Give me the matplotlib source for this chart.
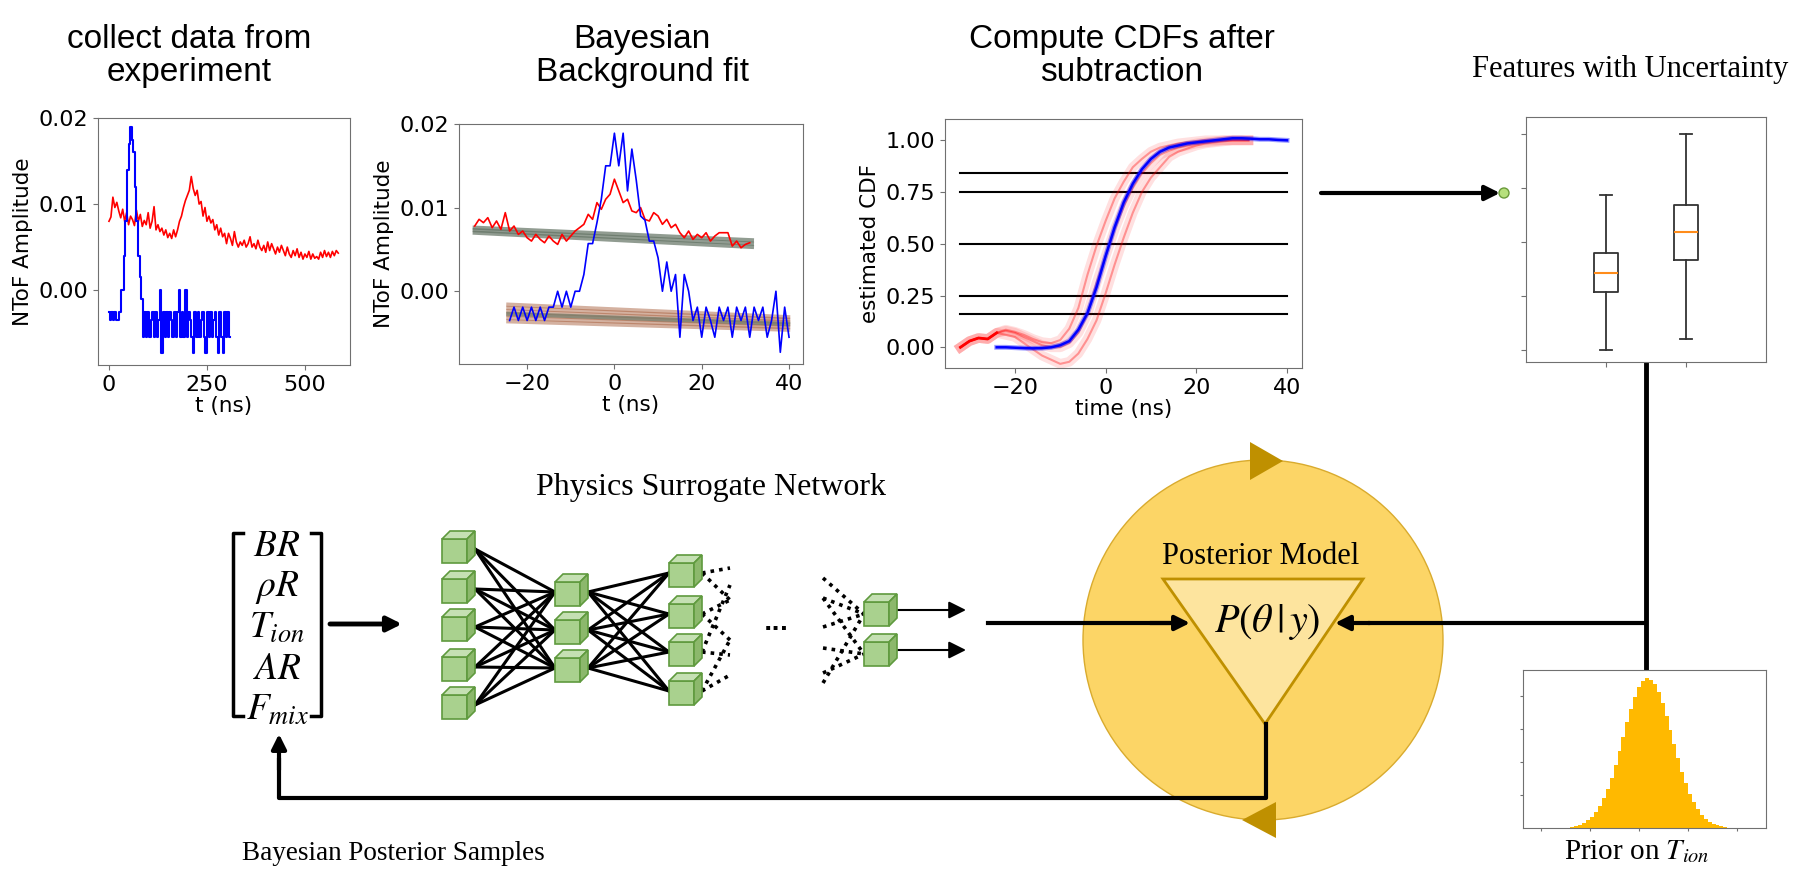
import numpy as np
import matplotlib
matplotlib.use('Agg')
import matplotlib.pyplot as plt
from matplotlib.patches import Circle, Polygon

plt.rcParams['mathtext.fontset'] = 'stix'

W, H = 1798, 877

# --- panel 1: raw NToF signals (x 1e-3)
raw_red = [8.0, 8.5, 10.8, 9.6, 10.2, 9.2, 8.4, 9.4, 8.0, 9.0, 7.6, 8.6, 8.2, 7.5, 9.3, 8.0,
           8.8, 7.4, 8.1, 7.6, 9.0, 7.2, 8.0, 9.7, 7.0, 7.6, 6.8, 7.2, 6.4, 7.0, 6.1, 6.6,
           6.0, 7.0, 6.2, 7.0, 8.0, 8.6, 9.6, 10.4, 11.0, 11.6, 13.2, 11.8, 11.0, 11.6, 10.0,
           10.3, 8.6, 9.6, 8.0, 8.6, 7.8, 8.2, 7.0, 7.6, 6.4, 7.2, 6.2, 6.6, 5.4, 6.6, 6.0,
           5.2, 6.8, 5.6, 5.0, 5.6, 5.2, 5.8, 5.0, 5.4, 6.2, 5.0, 5.4, 4.8, 5.8, 5.0, 4.6,
           5.2, 4.4, 5.6, 4.6, 5.4, 4.8, 4.2, 5.0, 4.4, 5.2, 4.6, 4.0, 5.0, 4.2, 3.8, 4.6,
           4.0, 4.8, 3.8, 4.4, 3.6, 4.2, 3.8, 4.5, 3.6, 4.2, 3.7, 3.9, 3.6, 4.4, 3.8, 4.6,
           3.9, 4.4, 3.8, 4.5, 4.0, 4.6, 4.3]
raw_blue = [-2.5, -3.5, -2.5, -3.5, -2.5, -3.5, -3.5, -2.5, 0.0, 0.0, 4.0, 8.0, 14.0, 17.0,
            18.9, 17.5, 16.0, 12.0, 8.0, 4.0, 1.5, -1.0, -5.5, -2.5, -5.5, -2.5, -5.5, -3.5,
            -2.5, -5.5, -2.5, -5.5, -3.5, 0.0, -7.3, -2.5, -5.5, -2.5, -5.5, -2.5, -3.5, -5.5,
            -2.5, -5.5, -2.5, 0.0, -5.5, -2.5, -5.5, 0.0, -5.5, -2.5, -3.5, -5.5, -7.3, -2.5,
            -5.5, -2.5, -5.5, -3.5, -2.5, -5.5, -7.3, -2.5, -5.5, -2.5, -5.5, -3.5, -2.5, -5.5,
            -7.3, -2.5, -5.5, -7.3, -2.5, -5.5, -2.5, -5.5]
raw_red_dt, raw_blue_dt = 5, 4

# --- panel 2: aligned signals and background fits (x 1e-3)
fit_red = [7.8, 8.6, 8.2, 8.8, 7.6, 8.4, 7.4, 9.4, 7.2, 7.8, 6.8, 7.2, 6.4, 6.0, 6.8, 6.2,
           5.8, 6.6, 6.0, 5.6, 6.8, 6.0, 6.6, 7.2, 7.6, 8.0, 9.2, 8.6, 10.6, 9.8, 11.0, 11.6,
           13.4, 12.0, 10.6, 11.0, 9.6, 9.4, 10.0, 8.6, 8.4, 9.4, 9.0, 8.0, 8.6, 7.6, 8.0,
           7.0, 6.4, 7.2, 6.2, 6.8, 6.4, 7.0, 6.0, 6.6, 7.0, 7.0, 7.0, 5.4, 6.0, 5.2, 5.6, 5.8]
fit_red_t0 = -32
fit_blue = [-3.5, -1.9, -3.5, -1.9, -3.5, -1.9, -3.5, -1.9, -3.5, -1.9, -1.9, 0.0, -1.9, 0.0,
            -1.9, 0.0, 0.0, 2.0, 5.7, 5.7, 8.2, 11.0, 15.0, 15.0, 18.9, 15.0, 18.9, 12.0, 17.0,
            13.3, 9.0, 8.5, 6.0, 6.0, 4.0, 0.0, 3.5, 0.0, 2.0, -5.5, 2.0, 0.0, -3.5, -1.9, -5.5,
            -1.9, -3.5, -5.5, -1.9, -3.5, -1.9, -5.5, -1.9, -3.5, -1.9, -5.5, -1.9, -3.5, -1.9,
            -5.5, -3.5, 0.0, -7.3, -1.9, -5.5]
fit_blue_t0 = -24
bg_red_t = [-32, 31.5]
bg_red_lines = [[7.6, 6.1], [7.3, 5.7], [7.0, 5.3]]
bg_blue_t = [-24.3, 39.8]
bg_blue_lines = [[-1.6, -3.1], [-2.0, -3.4], [-2.4, -3.7], [-2.8, -4.0], [-3.2, -4.3], [-3.6, -4.6]]
bg_blue_mid = [-2.7, -3.9]

# --- panel 3: CDFs
cdf_red_t = [-32, -30, -28, -26, -24, -22, -20, -18, -16, -14, -12, -10, -8, -6, -4, -2, 0, 2,
             4, 6, 8, 10, 12, 14, 16, 18, 20, 22, 24, 26, 28, 30, 31.5]
cdf_red_mid = [0.0, 0.03, 0.045, 0.04, 0.07, 0.08, 0.07, 0.05, 0.03, 0.01, 0.0, 0.0, 0.02, 0.07,
               0.16, 0.31, 0.44, 0.57, 0.68, 0.77, 0.84, 0.89, 0.93, 0.95, 0.965, 0.975, 0.985,
               0.99, 0.995, 1.0, 1.0, 1.0, 1.0]
cdf_red_low = [0.0, 0.03, 0.045, 0.04, 0.07, 0.06, 0.05, 0.02, -0.01, -0.04, -0.06, -0.08, -0.07,
               -0.03, 0.04, 0.13, 0.26, 0.40, 0.53, 0.65, 0.75, 0.82, 0.87, 0.92, 0.945, 0.96,
               0.975, 0.985, 0.99, 0.995, 1.0, 1.0, 1.0]
cdf_red_high = [0.0, 0.03, 0.045, 0.04, 0.07, 0.085, 0.075, 0.06, 0.04, 0.025, 0.02, 0.035, 0.09,
                0.19, 0.35, 0.49, 0.61, 0.72, 0.80, 0.87, 0.91, 0.945, 0.965, 0.975, 0.985,
                0.99, 0.995, 1.0, 1.0, 1.0, 1.0, 1.0, 1.0]
cdf_blue_t = [-24, -22, -20, -18, -16, -14, -12, -10, -8, -6, -4, -2, 0, 2, 4, 6, 8, 10, 12, 14,
              16, 18, 20, 22, 24, 26, 28, 30, 32, 34, 36, 38, 40]
cdf_blue = [0.0, 0.0, -0.002, -0.004, -0.005, -0.004, 0.0, 0.01, 0.03, 0.085, 0.165, 0.29, 0.44,
            0.58, 0.70, 0.79, 0.86, 0.91, 0.945, 0.965, 0.975, 0.985, 0.99, 0.995, 1.0, 1.005,
            1.01, 1.01, 1.008, 1.005, 1.005, 1.002, 1.0]
quantiles = [0.16, 0.25, 0.5, 0.75, 0.84]

# --- panel 4: feature boxes
box_lo = [0.0, 0.2]
box_q1 = [1.07, 1.67]
box_med = [1.43, 2.18]
box_q3 = [1.80, 2.69]
box_hi = [2.87, 4.0]

# --- panel 5: prior histogram
prior_x = [-1.36, -1.28, -1.20, -1.12, -1.04, -0.96, -0.88, -0.80, -0.72, -0.64, -0.56, -0.48,
           -0.40, -0.32, -0.24, -0.16, -0.08, 0.00, 0.08, 0.16, 0.24, 0.32, 0.40, 0.48, 0.56,
           0.64, 0.72, 0.80, 0.88, 0.96, 1.04, 1.12, 1.20, 1.28, 1.36, 1.44, 1.52, 1.60, 1.68, 1.76]
prior_h = [0.04, 0.06, 0.10, 0.16, 0.23, 0.34, 0.48, 0.67, 0.90, 1.19, 1.52, 1.90, 2.33, 2.76,
           3.20, 3.61, 3.98, 4.27, 4.46, 4.55, 4.50, 4.38, 4.13, 3.80, 3.41, 2.98, 2.54, 2.11,
           1.71, 1.35, 1.04, 0.78, 0.57, 0.40, 0.28, 0.19, 0.12, 0.08, 0.05, 0.03]

fig = plt.figure(figsize=(W / 100, H / 100), dpi=100)


def px_axes(l, t, r, b):
    return fig.add_axes([l / W, 1 - b / H, (r - l) / W, (b - t) / H])


def style(ax):
    for s in ax.spines.values():
        s.set_color('#707070')
    ax.tick_params(labelsize=16, color='#707070')


# diagram layer in pixel coordinates
dg = fig.add_axes([0, 0, 1, 1])
dg.set_xlim(0, W)
dg.set_ylim(H, 0)
dg.axis('off')


def arrow(x0, y0, x1, y1, lw=3, ms=22):
    dg.annotate('', xy=(x1, y1), xytext=(x0, y0),
                arrowprops=dict(arrowstyle='-|>', lw=lw, color='black', mutation_scale=ms,
                                shrinkA=0, shrinkB=0))


def cube(x, y, w=25, h=24, d=8):
    kw = dict(closed=True, ec='#5f9a3e', lw=1.2, zorder=4)
    dg.add_patch(Polygon([(x, y), (x + w, y), (x + w, y + h), (x, y + h)], fc='#a9d18e', **kw))
    dg.add_patch(Polygon([(x, y), (x + d, y - d), (x + w + d, y - d), (x + w, y)], fc='#c5e0b3', **kw))
    dg.add_patch(Polygon([(x + w, y), (x + w + d, y - d), (x + w + d, y + h - d), (x + w, y + h)],
                         fc='#8cb86c', **kw))


# titles
tkw = dict(ha='center', va='center', fontsize=24, family='Liberation Sans', linespacing=1.12)
dg.text(189, 56, 'collect data from\nexperiment', **tkw)
dg.text(642, 56, 'Bayesian\nBackground fit', **tkw)
dg.text(1122, 56, 'Compute CDFs after\nsubtraction', **tkw)
skw = dict(ha='center', va='center', family='Liberation Serif')
dg.text(1630, 69, 'Features with Uncertainty', fontsize=22, **skw)
dg.text(711, 487, 'Physics Surrogate Network', fontsize=23, **skw)
dg.text(393, 854, 'Bayesian Posterior Samples', fontsize=19.5, **skw)
dg.text(1637, 852, 'Prior on $T_{ion}$', fontsize=21, **skw)

# parameter vector
for xb, tick in [(233, 10), (321, -10)]:
    dg.plot([xb + tick, xb, xb, xb + tick], [533, 533, 716, 716], color='black', lw=2.5)
params = ['$BR$', r'$\rho R$', '$T_{ion}$', '$AR$', '$F_{mix}$']
for i, p in enumerate(params):
    dg.text(277, 546 + i * 41, p, ha='center', va='center', fontsize=27)
arrow(330, 624, 402, 624, lw=3.5)

# surrogate network
layers = [(442, [539, 579, 617, 657, 695]), (555, [582, 620, 658]),
          (669, [563, 604, 642, 681])]
dots = (0, (1, 1.4))
for (xa, ya), (xb, yb) in zip(layers[:-1], layers[1:]):
    for y0 in ya:
        for y1 in yb:
            dg.plot([xa + 33, xb], [y0 + 10, y1 + 10], color='black', lw=2.2, zorder=2)
for y0, targets in zip(layers[2][1], [[568, 600], [600, 640], [585, 655], [640, 675]]):
    for y1 in targets:
        dg.plot([702, 730], [y0 + 10, y1], color='black', lw=2.6, ls=dots, zorder=2)
out_cubes = [602, 642]
for y0, y1 in [(578, 602), (598, 602), (627, 602), (598, 642), (648, 642), (673, 642), (683, 602)]:
    dg.plot([823, 864], [y0, y1 + 12], color='black', lw=2.6, ls=dots, zorder=2)
for xl, ys in layers:
    for y in ys:
        cube(xl, y)
for y in out_cubes:
    cube(864, y)
    arrow(898, y + 8, 966, y + 8, lw=1.5, ms=26)
dg.text(776, 624, '...', ha='center', va='center', fontsize=16, fontweight='bold')

# posterior model
dg.add_patch(Circle((1263, 640), 180, fc='#fcd566', ec='#d9ab2e', lw=1, zorder=1))
dg.add_patch(Polygon([(1163, 579), (1363, 579), (1265, 724)], fc='#fde49e', ec='#bf9000', lw=2,
                     zorder=2))
dg.add_patch(Polygon([(1250, 442), (1250, 480), (1283, 461)], fc='#bf9000', ec='none', zorder=2))
dg.add_patch(Polygon([(1276, 802), (1276, 838), (1242, 820)], fc='#bf9000', ec='none', zorder=2))
dg.text(1261, 557, 'Posterior Model', ha='center', va='center', family='Liberation Serif',
        fontsize=22, zorder=3)
dg.text(1267, 622, r'$P(\theta\,|\,y)$', ha='center', va='center', fontsize=29, zorder=3)
dg.plot([988, 1180], [623, 623], color='black', lw=3, zorder=3)
arrow(1150, 623, 1190, 623, lw=3, ms=22)
dg.plot([1646, 1646], [362, 670], color='black', lw=3.5)
dg.plot([1646, 1370], [623, 623], color='black', lw=3, zorder=3)
arrow(1370, 623, 1335, 623, lw=3, ms=22)
dg.plot([1266, 1266, 279, 279], [724, 798, 798, 760], color='black', lw=3, zorder=3)
arrow(279, 770, 279, 734, lw=3, ms=22)
arrow(1321, 193, 1500, 193, lw=3, ms=22)
dg.add_patch(Circle((1504, 193), 5, fc='#b6e07c', ec='#6a9a3a', lw=1, zorder=5))

# panel 1
ax1 = px_axes(98, 118, 350, 365)
ax1.plot(np.arange(len(raw_red)) * raw_red_dt, np.array(raw_red) * 1e-3, color='red', lw=1.2)
ax1.plot(np.arange(len(raw_blue)) * raw_blue_dt, np.array(raw_blue) * 1e-3, color='blue', lw=1.5,
         drawstyle='steps-mid')
ax1.set_xlim(-28, 615)
ax1.set_ylim(-0.0087, 0.02)
ax1.set_xticks([0, 250, 500])
ax1.set_yticks([0.0, 0.01, 0.02])
ax1.set_yticklabels(['0.00', '0.01', '0.02'])
ax1.set_xlabel('t (ns)', fontsize=15.5, labelpad=1)
ax1.set_ylabel('NToF Amplitude', fontsize=15.5)
style(ax1)

# panel 2
ax2 = px_axes(459, 124, 803, 364)
for ys in bg_red_lines:
    ax2.plot(bg_red_t, np.array(ys) * 1e-3, color='#627263', lw=3, alpha=0.7)
for ys in bg_blue_lines:
    ax2.plot(bg_blue_t, np.array(ys) * 1e-3, color='#a0522d', lw=3, alpha=0.45)
ax2.plot(bg_blue_t, np.array(bg_blue_mid) * 1e-3, color='#6f7a68', lw=3, alpha=0.7)
ax2.plot(fit_red_t0 + np.arange(len(fit_red)), np.array(fit_red) * 1e-3, color='red', lw=1.2)
ax2.plot(fit_blue_t0 + np.arange(len(fit_blue)), np.array(fit_blue) * 1e-3, color='blue', lw=1.2)
ax2.set_xlim(-35.6, 43.2)
ax2.set_ylim(-0.0087, 0.02)
ax2.set_xticks([-20, 0, 20, 40])
ax2.set_yticks([0.0, 0.01, 0.02])
ax2.set_yticklabels(['0.00', '0.01', '0.02'])
ax2.set_xlabel('t (ns)', fontsize=15.5, labelpad=1)
ax2.set_ylabel('NToF Amplitude', fontsize=15.5)
style(ax2)

# panel 3
ax3 = px_axes(945, 119, 1302, 368)
for q in quantiles:
    ax3.plot([-32, 40], [q, q], color='black', lw=1.5)
for c in [cdf_red_low, cdf_red_mid, cdf_red_high]:
    ax3.plot(cdf_red_t, c, color='red', lw=7, alpha=0.12)
    ax3.plot(cdf_red_t, c, color='red', lw=1.5, alpha=0.35)
ax3.plot(cdf_red_t[:5], cdf_red_mid[:5], color='red', lw=2)
ax3.plot(cdf_blue_t, cdf_blue, color='blue', lw=3.5, alpha=0.4)
ax3.plot(cdf_blue_t, cdf_blue, color='blue', lw=1.8)
ax3.set_xlim(-35.4, 43.3)
ax3.set_ylim(-0.10, 1.103)
ax3.set_xticks([-20, 0, 20, 40])
ax3.set_yticks([0, 0.25, 0.5, 0.75, 1.0])
ax3.set_yticklabels(['0.00', '0.25', '0.50', '0.75', '1.00'])
ax3.set_xlabel('time (ns)', fontsize=15.5, labelpad=1)
ax3.set_ylabel('estimated CDF', fontsize=15.5)
style(ax3)

# panel 4
ax4 = px_axes(1526, 117, 1766, 362)
stats = [dict(whislo=lo, q1=a, med=m, q3=b, whishi=hi, fliers=[])
         for lo, a, m, b, hi in zip(box_lo, box_q1, box_med, box_q3, box_hi)]
ax4.bxp(stats, positions=[1, 2], widths=0.31,
        boxprops=dict(color='#333333', lw=1.3), whiskerprops=dict(color='#333333', lw=1.3),
        capprops=dict(color='#333333', lw=1.3), medianprops=dict(color='#ff8c1a', lw=1.5))
ax4.set_xlim(0, 3)
ax4.set_ylim(-0.22, 4.31)
ax4.set_yticks([0, 1, 2, 3, 4])
ax4.set_xticks([1, 2])
ax4.set_xticklabels([])
ax4.set_yticklabels([])
style(ax4)

# panel 5
ax5 = px_axes(1523, 670, 1766, 828)
ax5.bar(prior_x, prior_h, width=0.081, color='#ffb900', edgecolor='none')
ax5.set_xlim(-2.37, 2.59)
ax5.set_ylim(0, 4.79)
ax5.set_xticks([-2, -1, 0, 1, 2])
ax5.set_yticks([1, 2, 3, 4])
ax5.set_xticklabels([])
ax5.set_yticklabels([])
ax5.tick_params(length=2)
style(ax5)

fig.savefig('out.png', dpi=100)
